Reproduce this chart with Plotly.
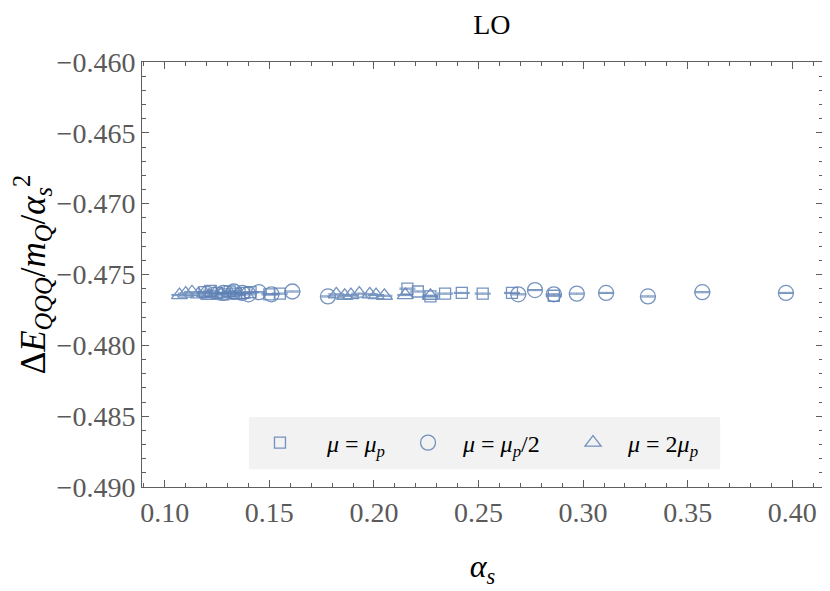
import plotly.graph_objects as go

# data
alpha_mu = [0.119, 0.122, 0.125, 0.128, 0.131, 0.134, 0.138, 0.141, 0.150, 0.155,
            0.216, 0.221, 0.227, 0.234, 0.242, 0.252, 0.266, 0.286]
dE_mu = [-0.47625, -0.47615, -0.47630, -0.47640, -0.47620, -0.47635, -0.47630, -0.47625, -0.47640, -0.47635,
         -0.47600, -0.47620, -0.47655, -0.47635, -0.47630, -0.47635, -0.47630, -0.47650]

alpha_half = [0.128, 0.133, 0.137, 0.140, 0.145, 0.151, 0.161, 0.178,
              0.269, 0.277, 0.286, 0.297, 0.311, 0.331, 0.357, 0.397]
dE_half = [-0.47630, -0.47620, -0.47630, -0.47640, -0.47625, -0.47640, -0.47620, -0.47655,
           -0.47640, -0.47610, -0.47640, -0.47635, -0.47630, -0.47655, -0.47625, -0.47630]

alpha_two = [0.107, 0.110, 0.113, 0.116, 0.119, 0.121, 0.124, 0.127, 0.131, 0.135,
             0.182, 0.186, 0.189, 0.193, 0.198, 0.201, 0.205, 0.215, 0.227]
dE_two = [-0.47645, -0.47635, -0.47625, -0.47640, -0.47630, -0.47650, -0.47635, -0.47640, -0.47630, -0.47645,
          -0.47640, -0.47650, -0.47645, -0.47635, -0.47640, -0.47645, -0.47650, -0.47645, -0.47650]

err = 0.00004

BLUE = "rgb(94,129,181)"
GRAY = "rgb(95,95,95)"
FONT = "Liberation Serif"

fig = go.Figure()

series = [
    (alpha_mu, dE_mu, "square-open", 11, "\u2002<i>μ</i> = <i>μ</i><sub><i>p</i></sub>", "legend"),
    (alpha_half, dE_half, "circle-open", 15, "<i>μ</i> = <i>μ</i><sub><i>p</i></sub>/2", "legend2"),
    (alpha_two, dE_two, "triangle-up-open", 14, "<i>μ</i> = 2<i>μ</i><sub><i>p</i></sub>", "legend3"),
]

for xs, ys, sym, sz, name, lg in series:
    fig.add_trace(go.Scatter(
        x=xs, y=ys,
        mode="markers",
        name=name,
        legend=lg,
        marker=dict(symbol=sym, size=sz, color=BLUE, line=dict(width=1.3, color=BLUE)),
        error_y=dict(type="constant", value=err, color=BLUE, thickness=1, width=8),
        opacity=0.85,
    ))

# legend background box
fig.add_shape(type="rect", xref="paper", yref="paper",
              x0=0.157, x1=0.849, y0=0.042, y1=0.165,
              fillcolor="rgb(242,242,242)", line=dict(width=0), layer="below")

axis_common = dict(
    showline=True, linecolor=GRAY, linewidth=1, mirror="ticks",
    ticks="inside", ticklen=7, tickcolor=GRAY,
    showgrid=False, zeroline=False, automargin=False,
    tickfont=dict(family=FONT, size=28, color="rgb(90,90,90)"),
)

fig.update_xaxes(
    range=[0.0891, 0.4147], dtick=0.05, tick0=0.1, tickformat=".2f",
    minor=dict(dtick=0.01, tick0=0.1, ticks="inside", ticklen=4, tickcolor=GRAY),
    title=dict(text="<i>α</i><sub><i>s</i></sub>", font=dict(family=FONT, size=32, color="black"), standoff=28),
    **axis_common,
)
fig.update_yaxes(
    range=[-0.490, -0.460], dtick=0.005, tickformat=".3f",
    minor=dict(dtick=0.001, ticks="inside", ticklen=4, tickcolor=GRAY),
    title=dict(text="Δ<i>E</i><sub><i>QQQ</i></sub>/<i>m</i><sub><i>Q</i></sub>/<i>α</i><sub><i>s</i></sub><sup>2</sup>",
               font=dict(family=FONT, size=35, color="black"), standoff=12),
    **axis_common,
)

leg_common = dict(orientation="h", y=0.1035, yanchor="middle", bgcolor="rgba(0,0,0,0)",
                  font=dict(family=FONT, size=24, color="black"), itemwidth=60)

fig.update_layout(
    title=dict(text="LO", x=0.583, xanchor="center", y=0.972, yanchor="middle",
               font=dict(family=FONT, size=28, color="black")),
    width=830, height=591,
    margin=dict(l=134, r=15, t=54, b=112),
    plot_bgcolor="white", paper_bgcolor="white",
    showlegend=True,
    legend=dict(x=0.1512, xanchor="left", **leg_common),
    legend2=dict(x=0.3686, xanchor="left", **leg_common),
    legend3=dict(x=0.6109, xanchor="left", **leg_common),
    separators=".−",
)

fig.write_html("out.html")
